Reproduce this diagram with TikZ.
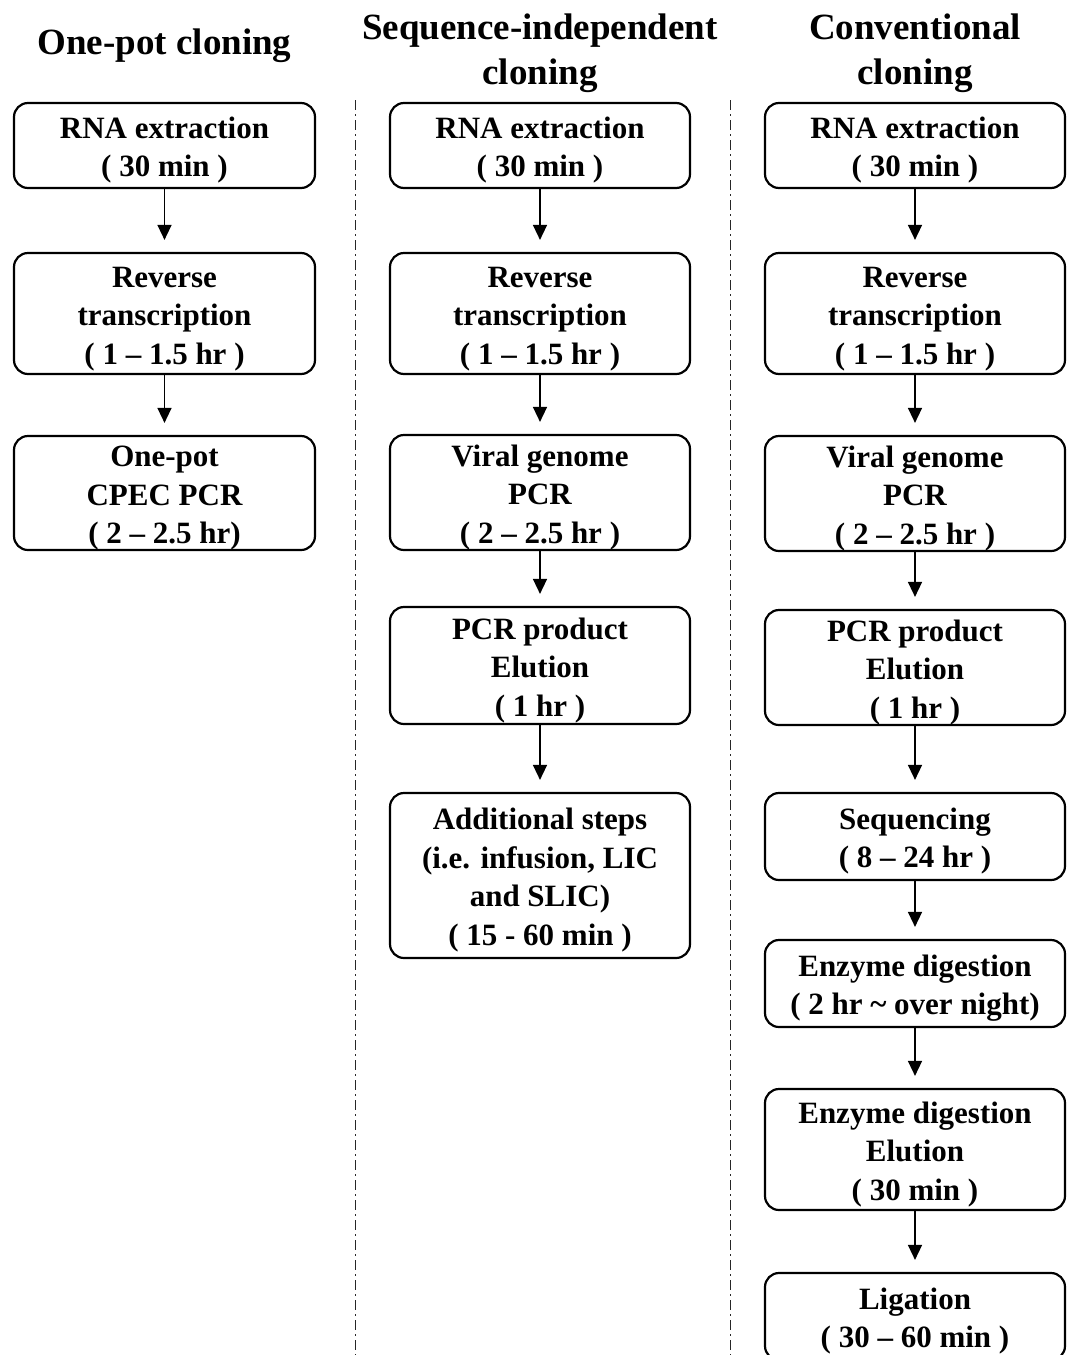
\documentclass[tikz,border=0pt]{standalone}
\usepackage{fontspec}
\setmainfont{Liberation Serif}
\usetikzlibrary{arrows.meta}
\newcommand{\ts}{\rule{0pt}{31pt}}
\tikzset{
  box/.style={draw, rounded corners=14pt, line width=2.2pt, align=center,
    minimum width=301pt, inner xsep=0pt, inner ysep=-4pt,
    font=\fontsize{31}{38.5}\selectfont\bfseries},
  ttl/.style={align=center, inner sep=0pt, font=\fontsize{37}{45}\selectfont\bfseries},
  arr/.style={line width=1.5pt, -{Triangle[width=14pt,length=15pt]}, shorten >=12pt},
  sep/.style={line width=1pt, black!85, dash pattern=on 10pt off 4pt on 2pt off 4pt}
}
\begin{document}
\begin{tikzpicture}[x=1pt,y=-1pt]
\useasboundingbox (0,0) rectangle (1072,1355);
\clip (0,0) rectangle (1072,1355);
% titles
\node[ttl] (t1) at (164.5,46) {One-pot cloning};
\node[ttl] (t2) at (540,53.5) {Sequence-independent\\cloning};
\node[ttl] (t3) at (915,53.5) {Conventional\\cloning};
% separators
\coordinate (s1a) at (355,100); \coordinate (s1b) at (355,1360);
\coordinate (s2a) at (730,100); \coordinate (s2b) at (730,1360);
\draw[sep] (s1a) -- (s1b);
\draw[sep] (s2a) -- (s2b);
% column 1
\node[box, minimum height=85pt] (a1) at (164.5,145.5) {\ts RNA extraction\\( 30 min )};
\node[box, minimum height=121pt] (a2) at (164.5,313.5) {\ts Reverse\\transcription\\( 1 – 1.5 hr )};
\node[box, minimum height=114pt] (a3) at (164.5,493) {\ts One-pot\\CPEC PCR\\( 2 – 2.5 hr)};
\draw[arr] (a1) -- (a2);
\draw[arr] (a2) -- (a3);
% column 2
\node[box, minimum width=300pt, minimum height=85pt] (b1) at (540,145.5) {\ts RNA extraction\\( 30 min )};
\node[box, minimum width=300pt, minimum height=121pt] (b2) at (540,313.5) {\ts Reverse\\transcription\\( 1 – 1.5 hr )};
\node[box, minimum width=300pt, minimum height=115pt] (b3) at (540,492.5) {\ts Viral genome\\PCR\\( 2 – 2.5 hr )};
\node[box, minimum width=300pt, minimum height=117pt] (b4) at (540,665.5) {\ts PCR product\\Elution\\( 1 hr )};
\node[box, minimum width=300pt, minimum height=165pt] (b5) at (540,875.5) {\ts Additional steps\\(i.e. infusion, LIC\\and SLIC)\\( 15 - 60 min )};
\draw[arr] (b1) -- (b2);
\draw[arr] (b2) -- (b3);
\draw[arr] (b3) -- (b4);
\draw[arr] (b4) -- (b5);
% column 3
\node[box, minimum width=300pt, minimum height=85pt] (c1) at (915,145.5) {\ts RNA extraction\\( 30 min )};
\node[box, minimum width=300pt, minimum height=121pt] (c2) at (915,313.5) {\ts Reverse\\transcription\\( 1 – 1.5 hr )};
\node[box, minimum width=300pt, minimum height=115pt] (c3) at (915,493.5) {\ts Viral genome\\PCR\\( 2 – 2.5 hr )};
\node[box, minimum width=300pt, minimum height=115pt] (c4) at (915,667.5) {\ts PCR product\\Elution\\( 1 hr )};
\node[box, minimum width=300pt, minimum height=87pt] (c5) at (915,836.5) {\ts Sequencing\\( 8 – 24 hr )};
\node[box, minimum width=300pt, minimum height=87pt] (c6) at (915,983.5) {\ts Enzyme digestion\\( 2 hr \textasciitilde{} over night)};
\node[box, minimum width=300pt, minimum height=121pt] (c7) at (915,1149.5) {\ts Enzyme digestion\\Elution\\( 30 min )};
\node[box, minimum width=300pt, minimum height=87pt] (c8) at (915,1316.5) {\ts Ligation\\( 30 – 60 min )};
\draw[arr] (c1) -- (c2);
\draw[arr] (c2) -- (c3);
\draw[arr] (c3) -- (c4);
\draw[arr] (c4) -- (c5);
\draw[arr] (c5) -- (c6);
\draw[arr] (c6) -- (c7);
\draw[arr] (c7) -- (c8);
\end{tikzpicture}
\end{document}
